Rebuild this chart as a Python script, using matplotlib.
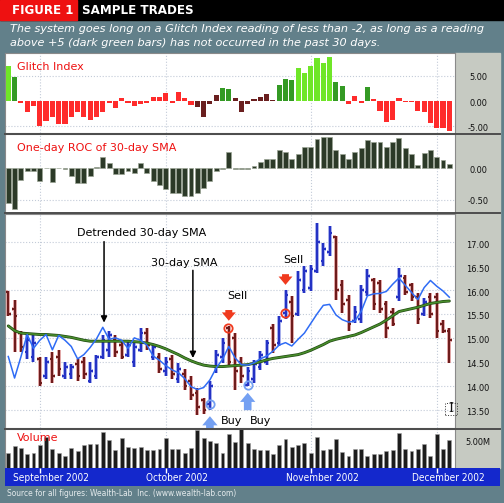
import matplotlib
matplotlib.use("Agg")
from matplotlib import pyplot as plt
from matplotlib import transforms
from matplotlib.patches import Rectangle
from matplotlib.lines import Line2D

W, H = 504, 503

# ---------------- data ----------------
# Glitch Index, one value per trading day (26 Aug .. 4 Dec 2002)
glitch = [6.9, 4.7, -0.4, -2.2, -1.0, -5.0, -3.9, -3.2, -4.5, -4.5,
          -3.2, -2.2, -3.2, -3.7, -3.2, -2.2, -0.3, -1.4, 0.7, -0.3,
          -1.0, -0.6, -0.4, 0.9, 0.9, 1.7, -0.3, 1.8, 0.7, -0.7,
          -1.2, -3.2, -0.5, 1.3, 2.6, 2.5, 0.6, -2.2, -0.5, 0.5,
          0.9, 1.5, 0.3, 3.1, 4.3, 4.1, 6.6, 5.6, 7.0, 8.5,
          7.6, 8.8, 3.7, 2.9, -0.5, 1.1, -0.3, 2.8, 0.4, -1.9,
          -4.2, -3.7, 0.6, -0.2, -0.2, -1.9, -2.2, -4.4, -5.3, -5.3,
          -5.9]
# bar state as drawn: hi = bright green, up = dark green, dn = red, mr = maroon
glitch_state = (["hi", "up"] + ["dn"] * 28 + ["mr"] * 4 + ["up"] * 2 + ["mr"] * 7
                + ["up"] * 3 + ["hi"] * 6 + ["up"] * 2 + ["dn"] * 3 + ["up"] + ["dn"] * 13)

roc = [-0.55, -0.65, -0.18, -0.05, -0.05, -0.20, 0.0, -0.22, 0.0, -0.01,
       -0.13, -0.24, -0.24, -0.13, 0.02, 0.18, 0.08, -0.09, -0.09, -0.04,
       -0.07, 0.08, -0.08, -0.20, -0.26, -0.33, -0.39, -0.39, -0.44, -0.44,
       -0.40, -0.32, -0.20, -0.05, -0.01, 0.25, -0.01, -0.01, -0.01, 0.04,
       0.09, 0.14, 0.14, 0.29, 0.25, 0.14, 0.23, 0.34, 0.34, 0.46,
       0.50, 0.50, 0.29, 0.23, 0.14, 0.25, 0.32, 0.44, 0.41, 0.41,
       0.34, 0.41, 0.47, 0.32, 0.23, 0.05, 0.24, 0.29, 0.18, 0.13,
       0.07]

# volume in millions
volume = [3.0, 4.3, 4.0, 2.7, 3.0, 4.5, 6.0, 3.7, 2.9, 2.4,
          4.0, 3.3, 4.5, 4.6, 4.6, 7.1, 5.4, 3.5, 5.9, 4.2,
          4.0, 4.2, 3.5, 3.5, 3.8, 5.8, 3.7, 3.7, 3.0, 4.0,
          7.5, 5.9, 5.3, 4.8, 3.0, 6.6, 5.1, 7.6, 4.8, 3.8,
          3.5, 3.5, 2.8, 4.5, 5.6, 4.2, 4.5, 4.8, 2.9, 6.1,
          3.5, 3.7, 5.6, 3.1, 2.4, 3.7, 3.7, 2.4, 2.7, 2.7,
          3.4, 3.5, 6.9, 3.7, 3.3, 3.8, 4.7, 2.4, 6.6, 3.7,
          5.4]

p_open = [15.95, 15.60, 15.10, 14.70, 14.60, 14.55, 14.20, 14.55, 14.60, 14.20,
          14.25, 14.45, 14.50, 14.10, 14.20, 14.60, 14.75, 14.95, 14.85, 14.65,
          14.50, 14.75, 15.10, 14.60, 14.60, 14.30, 14.55, 14.15, 14.25, 14.10,
          13.85, 13.70, 13.62, 14.30, 14.60, 15.20, 15.00, 14.50, 14.01, 14.15,
          14.40, 14.50, 15.20, 14.90, 15.52, 15.75, 15.50, 16.00, 16.05, 16.40,
          16.60, 16.80, 17.10, 16.10, 15.80, 15.35, 15.40, 15.95, 16.20, 16.15,
          15.70, 15.55, 15.85, 16.25, 16.10, 15.85, 15.50, 15.85, 15.85, 15.30,
          15.15]
p_high = [15.97, 15.80, 15.15, 15.10, 15.05, 14.60, 14.60, 14.70, 14.75, 14.50,
          14.45, 14.55, 14.60, 14.50, 14.65, 15.05, 15.15, 15.05, 14.95, 14.95,
          14.90, 15.20, 15.20, 14.86, 14.68, 14.61, 14.65, 14.47, 14.34, 14.20,
          13.95, 13.75, 14.10, 14.75, 15.00, 15.25, 15.10, 14.61, 14.40, 14.54,
          14.72, 14.96, 15.30, 15.45, 16.00, 15.87, 16.39, 16.50, 16.53, 17.40,
          16.99, 17.33, 17.12, 16.22, 15.90, 15.66, 16.11, 16.43, 16.25, 16.22,
          15.77, 15.63, 16.46, 16.32, 16.15, 15.94, 15.83, 15.94, 15.94, 15.38,
          15.21]
p_low = [15.45, 14.70, 14.70, 14.55, 14.50, 14.00, 14.15, 14.05, 14.20, 14.15,
         14.15, 14.10, 14.15, 14.05, 14.15, 14.55, 14.60, 14.60, 14.55, 14.60,
         14.40, 14.70, 14.75, 14.54, 14.27, 14.20, 14.13, 14.06, 13.92, 13.70,
         13.39, 13.40, 13.50, 14.27, 14.47, 14.40, 13.92, 14.06, 13.99, 14.06,
         14.33, 14.44, 14.68, 14.82, 15.40, 14.89, 15.45, 15.94, 15.97, 16.36,
         16.50, 16.71, 15.80, 15.52, 15.14, 15.31, 15.31, 15.87, 15.59, 15.52,
         15.00, 15.24, 15.77, 15.90, 15.77, 15.28, 15.45, 15.42, 15.00, 15.10,
         14.47]
p_close = [15.50, 15.45, 14.80, 14.95, 14.90, 14.05, 14.50, 14.20, 14.35, 14.40,
           14.40, 14.20, 14.25, 14.30, 14.60, 14.95, 15.05, 14.70, 14.60, 14.85,
           14.80, 15.10, 14.85, 14.80, 14.35, 14.50, 14.25, 14.35, 14.00, 13.80,
           13.55, 13.50, 14.00, 14.65, 14.90, 14.50, 14.30, 14.20, 14.30, 14.45,
           14.65, 14.90, 14.85, 15.35, 15.90, 15.45, 16.20, 16.40, 16.45, 17.00,
           16.85, 17.20, 16.00, 15.70, 15.30, 15.55, 16.00, 16.30, 15.70, 15.60,
           15.20, 15.30, 16.30, 15.95, 15.85, 15.40, 15.75, 15.50, 15.15, 15.15,
           14.95]

sma30 = [15.25, 15.15, 15.10, 15.09, 15.08, 15.07, 15.07, 15.06, 15.05, 15.03,
         15.01, 14.98, 14.95, 14.93, 14.93, 14.93, 14.93, 14.93, 14.93, 14.93,
         14.92, 14.91, 14.89, 14.86, 14.82, 14.77, 14.71, 14.65, 14.58, 14.52,
         14.47, 14.43, 14.41, 14.40, 14.40, 14.41, 14.42, 14.43, 14.44, 14.47,
         14.50, 14.54, 14.57, 14.59, 14.61, 14.63, 14.65, 14.69, 14.74, 14.80,
         14.86, 14.93, 14.97, 15.00, 15.03, 15.06, 15.11, 15.17, 15.23, 15.29,
         15.37, 15.46, 15.55, 15.58, 15.61, 15.64, 15.68, 15.72, 15.74, 15.76,
         15.77]
detrended = [14.61, 14.16, 14.60, 15.07, 14.78, 14.95, 15.07, 14.75, 15.05, 14.95,
             14.82, 14.56, 14.65, 14.80, 14.98, 15.22, 14.97, 15.00, 14.95, 14.78,
             15.00, 14.95, 14.85, 14.62, 14.53, 14.42, 14.33, 14.27, 14.15, 13.98,
             13.92, 13.96, 14.12, 14.37, 14.55, 14.82, 14.58, 14.44, 14.43, 14.48,
             14.56, 14.62, 14.72, 14.85, 14.90, 14.83, 14.97, 15.10, 15.30, 15.50,
             15.68, 15.70, 15.48, 15.38, 15.33, 15.35, 15.55, 15.88, 15.92, 15.93,
             15.97, 16.12, 16.25, 16.10, 15.95, 15.80, 16.05, 16.20, 16.08, 15.98,
             15.85]

buy_bars = [32, 38]
sell_bars = [35, 44]
month_pos = [5, 25, 48, 68]
month_names = ["September 2002", "October 2002", "November 2002", "December 2002"]

glitch_ticks = [-5, 0, 5]
roc_ticks = [-0.5, 0.0]
price_ticks = [13.5, 14.0, 14.5, 15.0, 15.5, 16.0, 16.5, 17.0]

# ---------------- layout helpers ----------------
def box(x0, y0, x1, y1):
    return [x0 / W, 1 - y1 / H, (x1 - x0) / W, (y1 - y0) / H]


BG = "#62808a"
GRID = "#c3cbd8"
n = len(glitch)
xs = list(range(n))
XL = (-0.52, 70.9)

fig = plt.figure(figsize=(W / 100, H / 100), dpi=100)
fig.patch.set_facecolor(BG)

# title bar
fig.add_artist(Rectangle((0, 1 - 20 / H), 1, 20 / H, transform=fig.transFigure,
                         color="black", zorder=0))
fig.add_artist(Rectangle((0, 1 - 20 / H), 77 / W, 20 / H, transform=fig.transFigure,
                         color="#ee1111", zorder=1))
fig.text(12 / W, 1 - 10.5 / H, "FIGURE 1", color="white", fontsize=8.6,
         fontweight="bold", va="center", ha="left")
fig.text(82 / W, 1 - 10.5 / H, "SAMPLE TRADES", color="white", fontsize=8.6,
         fontweight="bold", va="center", ha="left")
fig.text(10 / W, 1 - 29.5 / H,
         "The system goes long on a Glitch Index reading of less than -2, as long as a reading",
         color="white", fontsize=8.15, style="italic", va="center")
fig.text(10 / W, 1 - 43.5 / H,
         "above +5 (dark green bars) has not occurred in the past 30 days.",
         color="white", fontsize=8.15, style="italic", va="center")

# grey label strip on the right
fig.add_artist(Rectangle((455 / W, 1 - 468 / H), 45 / W, 415 / H, transform=fig.transFigure,
                         color="#c6cac2", zorder=0))


def panel(y0, y1):
    ax = fig.add_axes(box(5, y0, 455, y1))
    ax.set_facecolor("white")
    ax.set_xlim(*XL)
    ax.set_xticks([])
    ax.set_yticks([])
    for s in ax.spines.values():
        s.set_color("#8a8a8a")
        s.set_linewidth(0.8)
    for m in month_pos:
        ax.axvline(m, color=GRID, lw=0.8, ls=":", zorder=0)
    return ax


def right_labels(ax, ticks, fmt, dy=-2):
    tr = transforms.blended_transform_factory(ax.transAxes, ax.transData)
    tr = transforms.offset_copy(tr, fig=fig, y=dy, units="dots")
    for t in ticks:
        ax.text(1.051, t, fmt.format(t), transform=tr, ha="center", va="center",
                fontsize=6.6, color="#111111", fontstretch="condensed", clip_on=False)


def panel_title(ax, txt, y=0.82):
    ax.text(0.027, y, txt, transform=ax.transAxes, color="#ee1111", fontsize=8,
            va="center", ha="left", zorder=5)


# ---- Glitch Index
ax1 = panel(53, 133)
ax1.set_ylim(-6.32, 9.54)
state_col = {"hi": "#6fe628", "up": "#349a24", "dn": "#ff2b2b", "mr": "#6a1f1f"}
ax1.bar(xs, glitch, width=0.82, color=[state_col[s] for s in glitch_state], zorder=3)
for t in (-5, 5):
    ax1.axhline(t, color=GRID, lw=0.8, ls=":", zorder=0)
panel_title(ax1, "Glitch Index")
right_labels(ax1, glitch_ticks, "{:.2f}")

# ---- ROC of 30-day SMA
ax2 = panel(134, 213)
ax2.set_ylim(-0.71, 0.54)
ax2.bar(xs, roc, width=0.78, color="#2c3a28", edgecolor="#9aa494", linewidth=0.5, zorder=3)
ax2.axhline(-0.5, color=GRID, lw=0.8, ls=":", zorder=0)
panel_title(ax2, "One-day ROC of 30-day SMA")
right_labels(ax2, roc_ticks, "{:.2f}")

# ---- price bars
ax3 = panel(214, 428)
ax3.set_ylim(13.115, 17.59)
for t in price_ticks:
    ax3.axhline(t, color=GRID, lw=0.8, ls=":", zorder=0)
for i in xs:
    up = p_close[i] >= p_open[i]
    col = "#2432c4" if up else "#6e1c1c"
    halo = "#aab2ee" if up else "#e6aaaa"
    for c, lw, z in ((halo, 2.8, 2), (col, 1.5, 3)):
        ax3.vlines(i, p_low[i], p_high[i], color=c, lw=lw, zorder=z)
        ax3.hlines(p_open[i], i - 0.42, i, color=c, lw=lw, zorder=z)
        ax3.hlines(p_close[i], i, i + 0.42, color=c, lw=lw, zorder=z)
ax3.plot(xs, sma30, color="#1f4a12", lw=2.1, zorder=4, solid_capstyle="round")
ax3.plot(xs, sma30, color="#4a8e2c", lw=1.1, zorder=4, solid_capstyle="round")
ax3.plot(xs, detrended, color="#2f6cf5", lw=1.1, zorder=5)
right_labels(ax3, price_ticks, "{:.2f}", dy=-3)

# callouts
pk = detrended.index(max(detrended[:25]))
ax3.text(pk + 6.2, 17.2, "Detrended 30-day SMA", fontsize=8, ha="center", va="center", zorder=6)
ax3.annotate("", xy=(pk + 0.2, detrended[pk] + 0.04), xytext=(pk + 0.2, 17.07),
             arrowprops=dict(arrowstyle="-|>", color="black", lw=1.1, mutation_scale=9),
             zorder=6)
lo = 29
ax3.text(lo - 1.1, 16.57, "30-day SMA", fontsize=8, ha="center", va="center", zorder=6)
ax3.annotate("", xy=(lo + 0.3, sma30[lo]), xytext=(lo + 0.3, 16.47),
             arrowprops=dict(arrowstyle="-|>", color="black", lw=1.1, mutation_scale=9),
             zorder=6)

fat_red = dict(arrowstyle="simple,head_length=0.6,head_width=1.0,tail_width=0.5",
               fc="#f03a1e", ec="none", mutation_scale=10)
fat_blue = dict(arrowstyle="simple,head_length=0.6,head_width=1.0,tail_width=0.5",
                fc="#74a0f2", ec="none", mutation_scale=11)
for b in sell_bars:
    tip = p_high[b] + 0.05
    ax3.annotate("", xy=(b, tip), xytext=(b, tip + 0.34), arrowprops=fat_red, zorder=7)
    ax3.text(b + 1.3, tip + 0.57, "Sell", fontsize=8, ha="center", va="center", zorder=7)
    ax3.plot(b - 0.15, p_open[b], "o", mfc="none", mec="#f03a1e", mew=1.3, ms=6, zorder=7)
for b, dx in zip(buy_bars, (3.4, 2.0)):
    tip = p_low[b] - 0.08
    ax3.annotate("", xy=(b, tip), xytext=(b, tip - 0.48), arrowprops=fat_blue,
                 zorder=7, annotation_clip=False)
    ax3.text(b + dx, 13.27, "Buy", fontsize=8, ha="center", va="center", zorder=7)
    ax3.plot(b, p_open[b], "o", mfc="none", mec="#74a0f2", mew=1.3, ms=6, zorder=7)

# ---- volume
ax4 = panel(429, 468)
ax4.set_ylim(0, 7.63)
ax4.bar(xs, volume, width=0.62, color="#1c1c1c", edgecolor="#a0a0a0", linewidth=0.4, zorder=3)
panel_title(ax4, "Volume", y=0.78)
right_labels(ax4, [5.0], "{:.2f}M", dy=0)

# separators between panels
for y in (133.5, 213.5, 428.5):
    fig.add_artist(Line2D([5 / W, 500 / W], [1 - y / H, 1 - y / H], transform=fig.transFigure,
                          color="#4d4d4d", lw=1.4, zorder=10))

# mouse cursor left in the screenshot
fig.add_artist(Rectangle((445 / W, 1 - 415 / H), 12 / W, 12 / H, transform=fig.transFigure,
                         fill=False, ec="#333333", lw=0.7, ls=":", zorder=11))
fig.text(451 / W, 1 - 409 / H, "I", color="#111111", fontsize=9, ha="center", va="center",
         fontfamily="DejaVu Serif", zorder=12)

# ---- date strip
axd = fig.add_axes(box(5, 468, 500, 486))
axd.set_facecolor("#1428cc")
axd.set_xlim(XL[0], XL[0] + (XL[1] - XL[0]) * 495 / 450)
axd.set_ylim(0, 1)
axd.set_xticks([])
axd.set_yticks([])
for s in axd.spines.values():
    s.set_visible(False)
for m, name in zip(month_pos, month_names):
    axd.vlines(m, 0.72, 1.0, color="white", lw=1.0)
    axd.text(m + 1.8, 0.42, name, color="white", fontsize=7.2, fontstretch="condensed",
             ha="center", va="center")

fig.text(7 / W, 1 - 493.5 / H, "Source for all figures: Wealth-Lab  Inc. (www.wealth-lab.com)",
         color="#e4eaec", fontsize=6, fontstretch="condensed", va="center", ha="left")

fig.savefig("out.png", dpi=100, facecolor=fig.get_facecolor())
